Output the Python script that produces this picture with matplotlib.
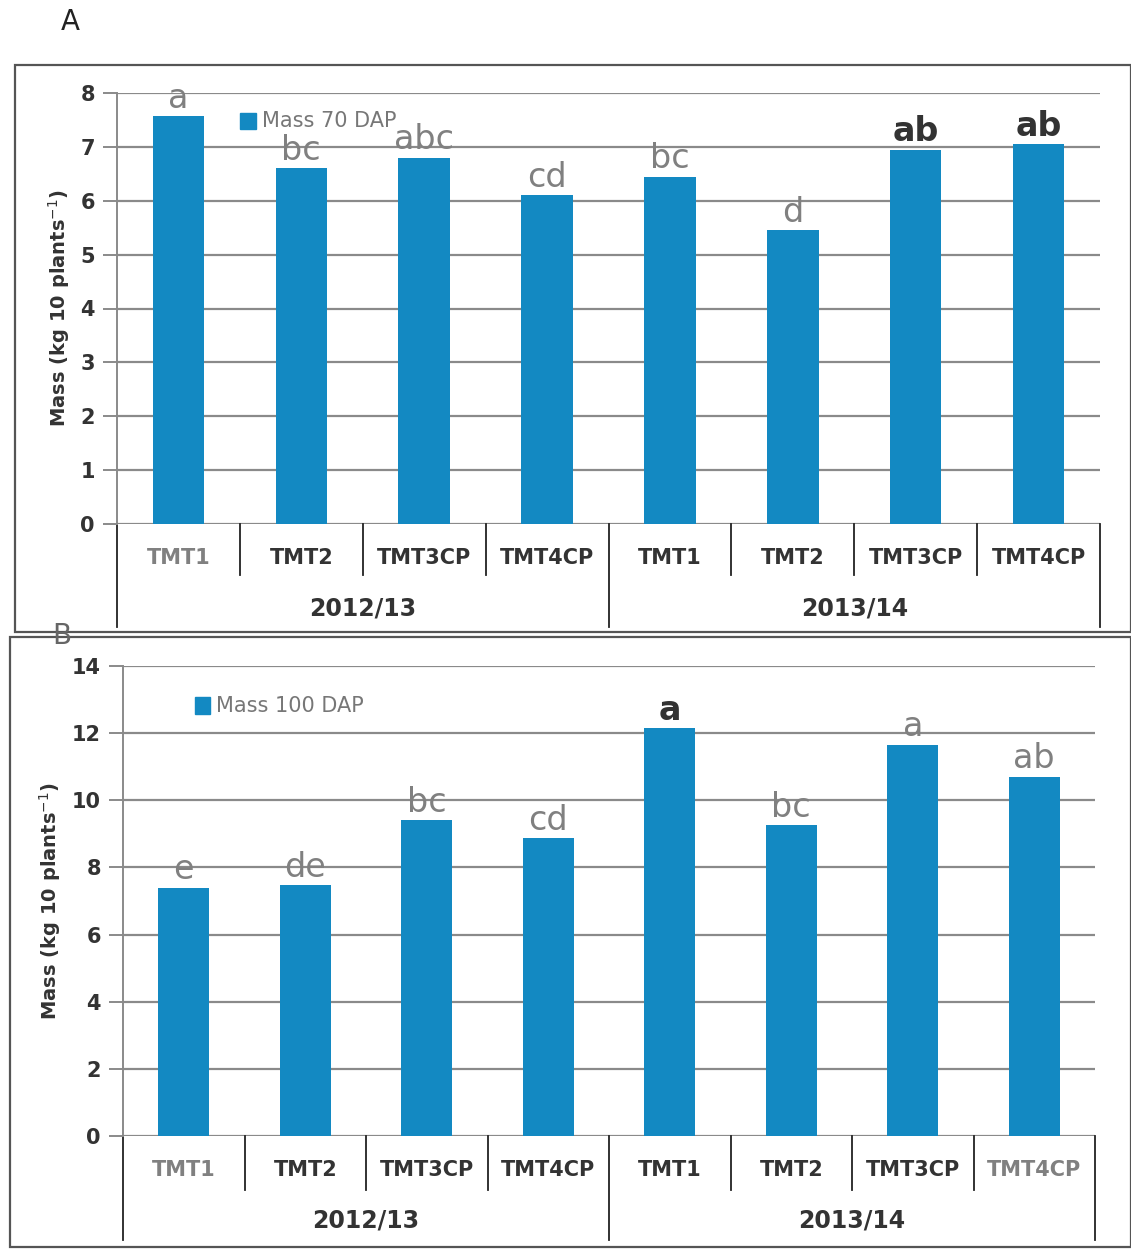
import matplotlib.pyplot as plt
from matplotlib.patches import Rectangle
from matplotlib.lines import Line2D

# dados
tratamentos = ['TMT1', 'TMT2', 'TMT3CP', 'TMT4CP', 'TMT1', 'TMT2', 'TMT3CP', 'TMT4CP']
safras = ['2012/13', '2013/14']
massa_70 = [7.57, 6.6, 6.8, 6.1, 6.45, 5.45, 6.95, 7.05]
letras_70 = ['a', 'bc', 'abc', 'cd', 'bc', 'd', 'ab', 'ab']
massa_100 = [7.4, 7.47, 9.4, 8.87, 12.15, 9.25, 11.65, 10.7]
letras_100 = ['e', 'de', 'bc', 'cd', 'a', 'bc', 'a', 'ab']

cor_barra = '#1389c2'
cinza = '#808080'
escuro = '#333333'

plt.rcParams['font.family'] = ['DejaVu Sans']

W, H = 1131, 1251
fig = plt.figure(figsize=(W / 100, H / 100), dpi=100)


def px_axes(l, t, r, b):
    return fig.add_axes([l / W, 1 - b / H, (r - l) / W, (b - t) / H])


def painel(ax, valores, letras, ymax, passo, cor_letras, peso_letras,
           cor_cats, y_cat, y_div, y_grp, y_lab):
    x = range(len(valores))
    ax.bar(x, valores, width=0.42, color=cor_barra, zorder=3)
    ax.set_xlim(-0.5, len(valores) - 0.5)
    ax.set_ylim(0, ymax)
    ax.set_yticks(range(0, ymax + 1, passo))
    ax.grid(axis='y', color='#8a8a8a', linewidth=1.6, zorder=0)
    for s in ['top', 'right', 'bottom']:
        ax.spines[s].set_visible(False)
    ax.spines['left'].set_color('#8a8a8a')
    ax.spines['left'].set_linewidth(1.4)
    ax.tick_params(axis='y', length=10, width=1.4, color='#8a8a8a', labelsize=15,
                   labelcolor=escuro, pad=6)
    for lb in ax.get_yticklabels():
        lb.set_fontweight('bold')
    ax.set_xticks([])
    ax.set_ylabel('Mass (kg 10 plants$^{-1}$)', fontsize=14, fontweight='bold',
                  color=escuro, labelpad=6)
    # letras de significância
    for i, (v, l) in enumerate(zip(valores, letras)):
        ax.text(i, v + ymax * 0.003, l, ha='center', va='bottom', fontsize=24,
                color=cor_letras[i], fontweight=peso_letras[i], zorder=4)
    tr = ax.get_xaxis_transform()
    for i, t in enumerate(tratamentos):
        ax.text(i, y_cat, t, transform=tr, ha='center', va='center', fontsize=15,
                color=cor_cats[i], fontweight='bold')
    for b in [0.5, 1.5, 2.5, 4.5, 5.5, 6.5]:
        ax.add_line(Line2D([b, b], [0, y_div], transform=tr, color='#222222',
                           linewidth=1.3, clip_on=False))
    for b in [-0.5, 3.5, 7.5]:
        ax.add_line(Line2D([b, b], [0, y_grp], transform=tr, color='#222222',
                           linewidth=1.3, clip_on=False))
    for g, s in enumerate(safras):
        ax.text(1.5 + 4 * g, y_lab, s, transform=tr, ha='center', va='center',
                fontsize=17, color=escuro, fontweight='bold')
    return ax


def legenda(ax, x, y, texto):
    ax.add_patch(Rectangle((x, y - 0.018), 0.016, 0.036, transform=ax.transAxes,
                           color=cor_barra, clip_on=False))
    ax.text(x + 0.022, y, texto, transform=ax.transAxes, color='#777777',
            fontsize=15, va='center', ha='left')


axA = px_axes(117, 93, 1100, 524)
painel(axA, massa_70, letras_70, 8, 1,
       [cinza] * 6 + [escuro, escuro], ['normal'] * 6 + ['bold', 'bold'],
       [cinza] + [escuro] * 7, -0.08, -0.118, -0.24, -0.195)
legenda(axA, 0.125, 0.935, 'Mass 70 DAP')

axB = px_axes(123, 666, 1095, 1136)
painel(axB, massa_100, letras_100, 14, 2,
       [cinza] * 4 + [escuro] + [cinza] * 3, ['normal'] * 4 + ['bold'] + ['normal'] * 3,
       [cinza] + [escuro] * 6 + [cinza], -0.072, -0.115, -0.222, -0.179)
legenda(axB, 0.074, 0.915, 'Mass 100 DAP')

# molduras dos painéis
fig.patches.append(Rectangle((15 / W, 1 - 632 / H), (W - 15) / W, 567 / H,
                             transform=fig.transFigure, fill=False,
                             edgecolor='#555555', linewidth=1.6))
fig.patches.append(Rectangle((10 / W, 1 - 1247 / H), (W - 10) / W, 610 / H,
                             transform=fig.transFigure, fill=False,
                             edgecolor='#555555', linewidth=1.6))
fig.text(70 / W, 1 - 22 / H, 'A', fontsize=20, color='#222222', va='center',
         ha='center')
fig.text(62 / W, 1 - 636 / H, 'B', fontsize=20, color='#666666', va='center',
         ha='center')

fig.savefig('out.png', dpi=100, facecolor='white')
